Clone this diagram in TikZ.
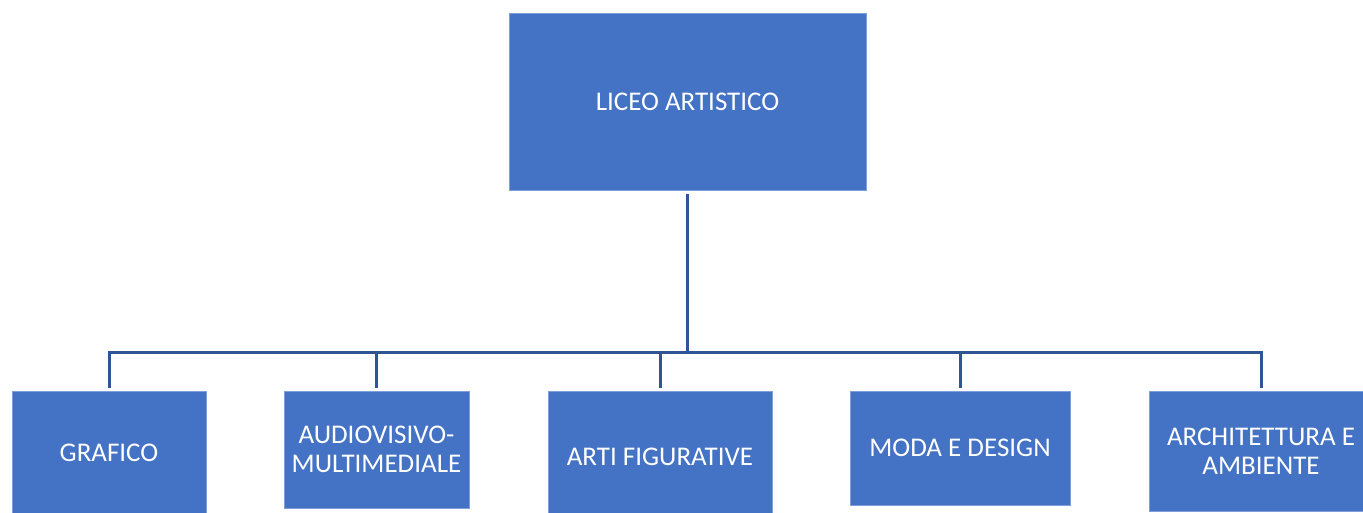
\documentclass[tikz,border=0pt]{standalone}
\usepackage{fontspec}
\setmainfont{Carlito}
\definecolor{boxfill}{HTML}{4472C4}
\definecolor{boxedge}{HTML}{7F9FDA}
\definecolor{linecol}{HTML}{2F5597}
\begin{document}
\begin{tikzpicture}[x=1pt,y=-1pt,
  box/.style={rectangle, fill=boxfill, draw=boxedge, line width=0.8pt, text=white,
    font=\fontsize{27}{29}\selectfont, align=center, inner sep=0pt},
  conn/.style={draw=linecol, line width=3pt, shorten <=4pt, shorten >=3pt}]
\useasboundingbox (0,0) rectangle (1363,512);
\clip (0,0) rectangle (1363,512);
\fill[white] (0,0) rectangle (1363,512);
\node[box, minimum width=357pt, minimum height=177pt] (top) at (687.5,101.5) {LICEO ARTISTICO};
\node[box, minimum width=194pt, minimum height=124pt] (g) at (109,453) {GRAFICO};
\node[box, minimum width=185pt, minimum height=117pt] (a) at (376.5,449.5) {AUDIOVISIVO-\\MULTIMEDIALE};
\node[box, minimum width=224pt, minimum height=132pt] (ar) at (660,457) {ARTI FIGURATIVE};
\node[box, minimum width=220pt, minimum height=114pt] (m) at (960,448) {MODA E DESIGN};
\node[box, minimum width=224pt, minimum height=120pt] (ch) at (1261,451) {ARCHITETTURA E\\AMBIENTE};
\coordinate (bus) at (687.5,352);
\draw[conn, shorten >=0pt] (top.south) -- (bus);
\foreach \n in {g,a,ar,m,ch}{
  \draw[conn, shorten <=0pt] (bus) -| (\n.north);
}
\end{tikzpicture}
\end{document}
